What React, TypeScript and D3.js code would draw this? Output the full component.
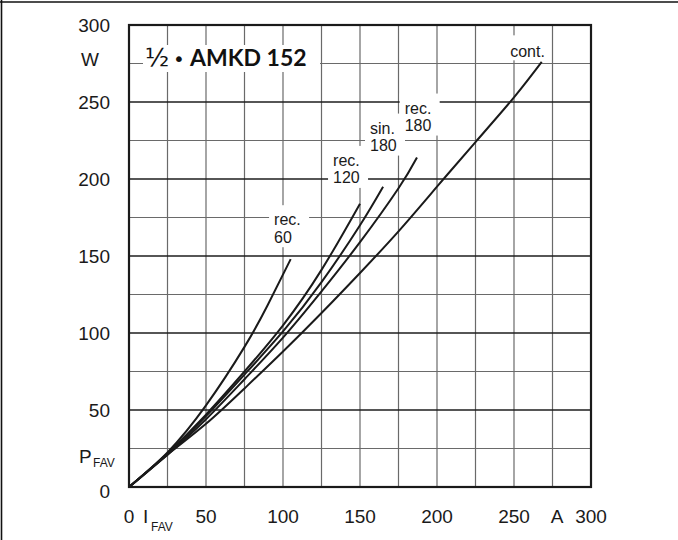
import React from 'react';
import * as d3 from 'd3';

// Axis ticks
const xTickValues = [0, 50, 100, 150, 200, 250, 300];
const yTickValues = [0, 50, 100, 150, 200, 250, 300];
const gridValues = [25, 50, 75, 100, 125, 150, 175, 200, 225, 250, 275];

// Curves: I_FAV (A) vs P_FAV (W)
const rec60I = [0, 25, 50, 75, 90, 105];
const rec60P = [0, 22.5, 53, 91, 118, 148];
const rec120I = [0, 25, 50, 75, 100, 125, 150];
const rec120P = [0, 22, 47, 75, 105, 141, 184];
const sin180I = [0, 25, 50, 75, 100, 125, 150, 165];
const sin180P = [0, 21.5, 46, 73, 101, 133, 170, 195];
const rec180I = [0, 25, 50, 75, 100, 125, 150, 175, 187];
const rec180P = [0, 21, 44, 70, 97, 127, 159, 194, 214];
const contI = [0, 25, 50, 75, 100, 125, 150, 175, 200, 225, 250, 268];
const contP = [0, 21, 41, 64, 88, 113, 139, 166, 195, 224, 253, 276];

const seriesI = [rec60I, rec120I, sin180I, rec180I, contI];
const seriesP = [rec60P, rec120P, sin180P, rec180P, contP];

// Curve labels (line1, line2) anchored in data coordinates (I, P of first baseline)
const labelLine1 = ['rec.', 'rec.', 'sin.', 'rec.', 'cont.'];
const labelLine2 = ['60', '120', '180', '180', ''];
const labelI = [94.2, 132.5, 156.5, 179, 247.5];
const labelP = [170, 208.5, 229.5, 242.5, 279];

const title = 'AMKD 152';

export default function App() {
  const W = 678;
  const H = 540;
  const x = d3.scaleLinear().domain([0, 300]).range([129, 591]);
  const y = d3.scaleLinear().domain([0, 300]).range([487, 25]);
  const line = d3
    .line<[number, number]>()
    .x((d) => x(d[0]))
    .y((d) => y(d[1]))
    .curve(d3.curveNatural);

  const tickFont = "'Liberation Sans', Arial, sans-serif";
  const textColor = '#1a1a1a';

  return (
    <svg
      width={W}
      height={H}
      style={{ position: 'absolute', left: 0, top: 0, background: '#fff' }}
      fontFamily={tickFont}
    >
      <rect x={0} y={0} width={W} height={H} fill="#fff" />
      {/* outer border (top, left) */}
      <line x1={0} y1={2} x2={W} y2={2} stroke="#111" strokeWidth={1.6} />
      <line x1={1.5} y1={0} x2={1.5} y2={H} stroke="#111" strokeWidth={1.6} />

      {/* grid */}
      {gridValues.map((v) => (
        <line
          key={'v' + v}
          x1={x(v)}
          x2={x(v)}
          y1={y(0)}
          y2={y(300)}
          stroke="#6a6a6a"
          strokeWidth={1.2}
        />
      ))}
      {gridValues.map((v) => (
        <line
          key={'h' + v}
          x1={x(0)}
          x2={x(300)}
          y1={y(v)}
          y2={y(v)}
          stroke={v % 50 === 0 ? '#1e1e1e' : '#6a6a6a'}
          strokeWidth={v % 50 === 0 ? 1.3 : 1.2}
        />
      ))}

      {/* curves */}
      {seriesI.map((I, k) => (
        <path
          key={'c' + k}
          d={line(I.map((v, i) => [v, seriesP[k][i]] as [number, number])) || ''}
          fill="none"
          stroke="#1a1a1a"
          strokeWidth={2}
        />
      ))}

      {/* frame */}
      <rect
        x={x(0)}
        y={y(300)}
        width={x(300) - x(0)}
        height={y(0) - y(300)}
        fill="none"
        stroke="#1a1a1a"
        strokeWidth={2.2}
      />

      {/* curve labels with white backgrounds */}
      {labelLine1.map((t, k) => {
        const lx = x(labelI[k]);
        const ly = y(labelP[k]);
        const two = labelLine2[k] !== '';
        return (
          <g key={'l' + k}>
            <rect
              x={lx - 5}
              y={ly - (two ? 20 : 22)}
              width={two ? 40 : 45}
              height={two ? 42 : 25}
              fill="#fff"
            />
            <text x={lx} y={ly} fontSize={16} fill={textColor}>
              {t}
            </text>
            {two && (
              <text x={lx} y={ly + 17.5} fontSize={16} fill={textColor}>
                {labelLine2[k]}
              </text>
            )}
          </g>
        );
      })}

      {/* title */}
      <rect x={143} y={45} width={177} height={27} fill="#fff" />
      <text x={145} y={66} fontSize={25} fill="#111" fontFamily="'DejaVu Sans', sans-serif">
        ½
      </text>
      <text x={173} y={66} fontSize={20} fill="#111" fontFamily="'DejaVu Sans', sans-serif">
        •
      </text>
      <text x={190} y={66} fontSize={23} fill="#111" fontFamily="Lato, 'Open Sans', sans-serif" fontWeight="bold">
        {title}
      </text>

      {/* y tick labels */}
      {yTickValues.map((v) => (
        <text
          key={'yt' + v}
          x={110}
          y={y(v) + (v === 0 ? 11 : 7)}
          fontSize={19}
          textAnchor="end"
          fill={textColor}
        >
          {v}
        </text>
      ))}
      <text x={90} y={66} fontSize={19} textAnchor="middle" fill={textColor}>
        W
      </text>
      <text x={79} y={463} fontSize={19} fill={textColor}>
        P
      </text>
      <text x={93} y={467} fontSize={12} fill={textColor}>
        FAV
      </text>

      {/* x tick labels */}
      {xTickValues.map((v) => (
        <text
          key={'xt' + v}
          x={x(v)}
          y={523}
          fontSize={19}
          textAnchor="middle"
          fill={textColor}
        >
          {v}
        </text>
      ))}
      <text x={143} y={523} fontSize={19} fill={textColor}>
        I
      </text>
      <text x={151} y={531} fontSize={12} fill={textColor}>
        FAV
      </text>
      <text x={557} y={523} fontSize={19} textAnchor="middle" fill={textColor}>
        A
      </text>
    </svg>
  );
}
